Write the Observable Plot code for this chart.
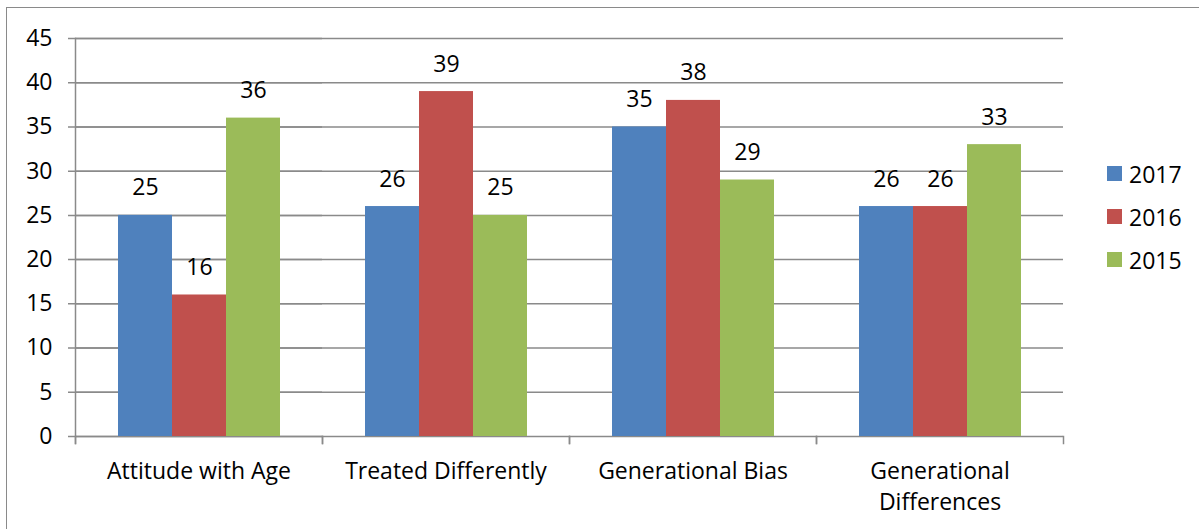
<!DOCTYPE html>
<html>
<head>
<meta charset="utf-8">
<script src="https://cdn.jsdelivr.net/npm/d3@7"></script>
<script src="https://cdn.jsdelivr.net/npm/@observablehq/plot@0.6"></script>
<style>
  html, body { margin: 0; padding: 0; background: #fff; overflow: hidden; }
  #wrap { position: relative; width: 1199px; height: 529px; overflow: hidden; font-family: "Open Sans", sans-serif; }
  #border { position: absolute; left: 6px; top: 7px; width: 1300px; height: 700px; border-left: 1.5px solid #8a8a8a; border-top: 1.5px solid #8a8a8a; box-sizing: border-box; }
  #chart { position: absolute; left: 0; top: 0; }
  #legend { position: absolute; left: 1107px; top: 152px; font-size: 23px; color: #000; }
  .row { display: flex; align-items: center; height: 43px; }
  .sw { width: 15px; height: 15px; margin-right: 7px; }
</style>
</head>
<body>
<div id="wrap">
  <div id="border"></div>
  <div id="chart"></div>
  <div id="legend"></div>
</div>
<script>
const categories = ["Attitude with Age", "Treated Differently", "Generational Bias", "Generational Differences"];
const categoryLabels = ["Attitude with Age", "Treated Differently", "Generational Bias", "Generational\nDifferences"];
const series = ["2017", "2016", "2015"];
const values2017 = [25, 26, 35, 26];
const values2016 = [16, 39, 38, 26];
const values2015 = [36, 25, 29, 33];
const colors = ["#4F81BD", "#C0504D", "#9BBB59"];
const yTicks = [0, 5, 10, 15, 20, 25, 30, 35, 40, 45];

const seriesValues = [values2017, values2016, values2015];
const rows = [];
categories.forEach((c, i) => {
  series.forEach((s, j) => rows.push({cat: c, series: s, value: seriesValues[j][i]}));
});
const labelOf = new Map(categories.map((c, i) => [c, categoryLabels[i]]));
const gray = "#8a8a8a";
const first = () => categories[0];

const chart = Plot.plot({
  width: 1199,
  height: 529,
  marginLeft: 74,
  marginRight: 135,
  marginTop: 38,
  marginBottom: 93,
  style: {fontFamily: "Open Sans, sans-serif", fontSize: "23px", color: "#000", background: "transparent", overflow: "visible"},
  fx: {domain: categories, padding: 0, label: null},
  x: {domain: series, paddingInner: 0, paddingOuter: 0.75, axis: null},
  y: {domain: [0, 45], axis: null},
  color: {domain: series, range: colors},
  marks: [
    Plot.ruleY(yTicks, {y: d => d, stroke: gray, strokeWidth: 1.5, strokeOpacity: 1}),
    Plot.ruleY(yTicks, {y: d => d, fx: first, stroke: gray, strokeWidth: 1.5, strokeOpacity: 1, insetLeft: -7}),
    Plot.frame({anchor: "left", stroke: gray, strokeWidth: 1.5, strokeOpacity: 1, insetBottom: -7, facet: "super"}),
    Plot.frame({anchor: "left", stroke: gray, strokeWidth: 1.5, strokeOpacity: 1, insetTop: 398, insetBottom: -7}),
    Plot.frame({anchor: "right", stroke: gray, strokeWidth: 1.5, strokeOpacity: 1, insetTop: 398, insetBottom: -7}),
    Plot.barY(rows, {fx: "cat", x: "series", y: "value", fill: "series"}),
    Plot.text(rows, {fx: "cat", x: "series", y: "value", text: d => String(d.value), lineAnchor: "bottom", dy: -20, fill: "#000"}),
    Plot.text(yTicks, {y: d => d, fx: first, text: d => String(d), frameAnchor: "left", textAnchor: "end", dx: -23, fill: "#000"}),
    Plot.axisFx({anchor: "bottom", tickSize: 0, tickPadding: 20, label: null, tickFormat: d => labelOf.get(d), lineHeight: 1.37, fill: "#000"})
  ]
});
document.getElementById("chart").appendChild(chart);

const legend = d3.select("#legend");
series.forEach((s, i) => {
  const r = legend.append("div").attr("class", "row");
  r.append("div").attr("class", "sw").style("background", colors[i]);
  r.append("span").text(s);
});
</script>
</body>
</html>
